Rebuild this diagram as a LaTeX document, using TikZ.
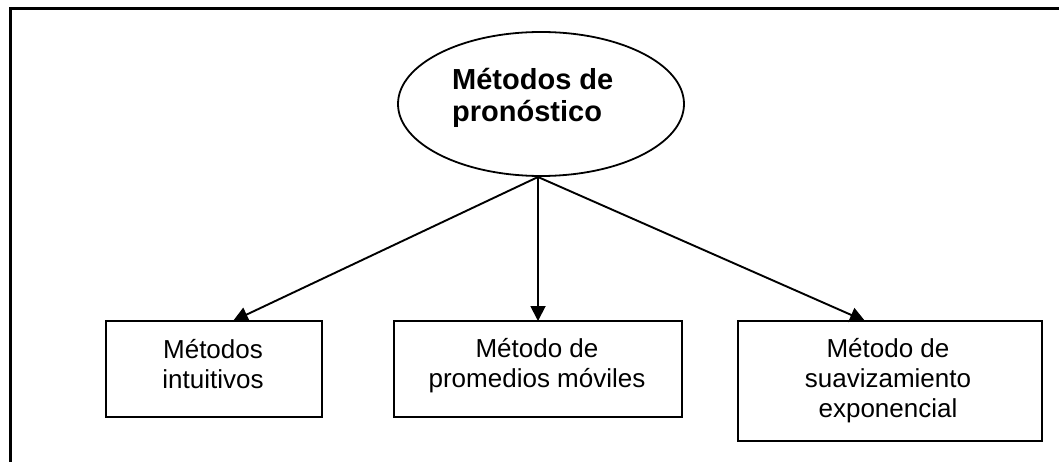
\documentclass[tikz,border=0pt]{standalone}
\usepackage{fontspec}
\setmainfont{Liberation Sans}
\usetikzlibrary{shapes.geometric,arrows.meta}
\begin{document}
\begin{tikzpicture}[x=1pt,y=-1pt,
  frame/.style={line width=3pt,black},
  boxnode/.style={draw,line width=2pt,rectangle,inner sep=0pt},
  ovalnode/.style={draw,line width=1.8pt,ellipse,inner sep=0pt},
  txt/.style={inner sep=0pt,align=center,font=\fontsize{26}{30}\selectfont},
  boldtxt/.style={inner sep=0pt,align=left,font=\fontsize{29}{32}\selectfont\bfseries},
  arr/.style={line width=1.9pt,-{Triangle[length=15pt,width=15pt]}}
]
\useasboundingbox (0,0) rectangle (1059,462);
\begin{scope}
\clip (0,0) rectangle (1059,462);
\draw[frame] (1080,9) -- (10,9) -- (10,480);
\end{scope}
% ellipse
\node[ovalnode,minimum width=286pt,minimum height=144pt] (root) at (541,104) {};
\node[boldtxt,anchor=base west] (roottxt) at (452,122) {Métodos de\\pronóstico};
% boxes
\node[boxnode,minimum width=216pt,minimum height=96pt] (b1) at (214,369) {};
\node[boxnode,minimum width=288pt,minimum height=96pt] (b2) at (538,369) {};
\node[boxnode,minimum width=304pt,minimum height=120pt] (b3) at (890,381) {};
\node[txt,anchor=base] (t1) at (213,388) {Métodos\\intuitivos};
\node[txt,anchor=base] (t2) at (537,387) {Método de\\promedios móviles};
\node[txt,anchor=base] (t3) at (888,417) {Método de\\suavizamiento\\exponencial};
% connectors
\coordinate (src) at (538,177);
\coordinate (e1) at (233,321);
\coordinate (e2) at (538,321);
\coordinate (e3) at (865,321);
\draw[arr] (src) -- (e1);
\draw[arr] (src) -- (e2);
\draw[arr] (src) -- (e3);
\end{tikzpicture}
\end{document}
